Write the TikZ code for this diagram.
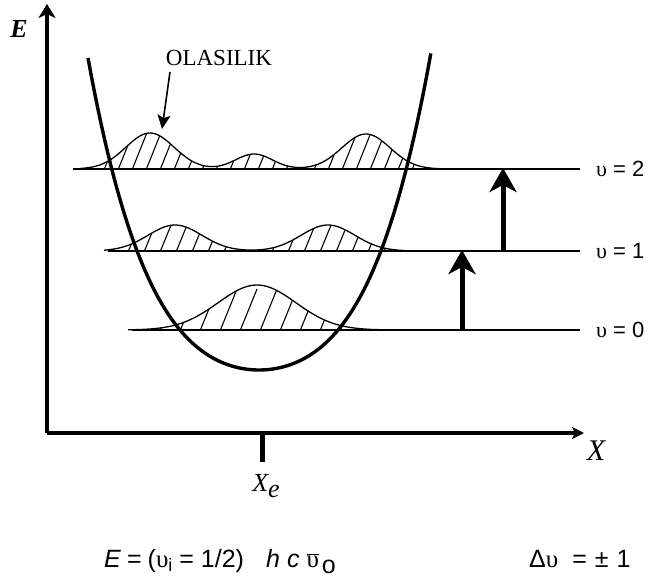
\documentclass[tikz,border=0pt]{standalone}
\usepackage{fontspec}
\setmainfont{Liberation Serif}
\newfontfamily\arialf{Liberation Sans}
\usetikzlibrary{arrows.meta}
\newcommand{\ups}{{\rmfamily υ}}
\begin{document}
\begin{tikzpicture}[x=1pt,y=-1pt,
  axis/.style={line width=3.2pt},
  level/.style={line width=1.8pt},
  prob/.style={line width=1.3pt},
  hatchline/.style={line width=1.1pt},
  well/.style={line width=3.4pt},
  jump/.style={line width=5pt,-{Stealth[length=24pt,width=27pt,inset=7pt]}},
  lvlabel/.style={anchor=west,inner sep=0pt,font=\arialf\fontsize{22}{24}\selectfont},
  formula/.style={anchor=base west,inner sep=0pt,font=\arialf\fontsize{25}{28}\selectfont}]
\useasboundingbox (0,0) rectangle (650,578);
\fill[white] (0,0) rectangle (650,578);

% axes
\coordinate (O) at (47,433);
\coordinate (Etop) at (47,4);
\coordinate (Xend) at (584,433);
\draw[axis,-{Stealth[length=14pt,width=17pt,inset=4pt]}] (O) -- (Etop);
\draw[axis,-{Stealth[length=12pt,width=12pt,inset=3pt]}] (O) -- (Xend);
\node[inner sep=0pt] (Elab) at (19,29) {\fontsize{26}{26}\selectfont\textbf{\textit{E}}};
\node[inner sep=0pt,font=\itshape\fontsize{30}{30}\selectfont] (Xlab) at (596,451) {X};
\coordinate (T1) at (262,433);
\coordinate (T2) at (262,462);
\draw[line width=5pt] (T1) -- (T2);
\node[inner sep=0pt,font=\itshape\fontsize{26}{26}\selectfont] (Xe) at (266,486) {X\raisebox{-6pt}{e}};

% hatched probability densities
% v = 0
\begin{scope}
\clip plot[domain=128:382,samples=80,variable=\t] ({\t},{330-45*exp(-((\t-257)/55)^2)}) -- cycle;
\foreach \h in {140,160,...,380} \draw[hatchline] (\h,331) -- ++(17,-42);
\end{scope}
\draw[prob] plot[domain=128:382,samples=80,variable=\t] ({\t},{330-45*exp(-((\t-257)/55)^2)});
% v = 1
\begin{scope}
\clip plot[domain=104:405,samples=100,variable=\t] ({\t},{251-26*(exp(-((\t-175)/38)^2)+exp(-((\t-328)/38)^2))}) -- cycle;
\foreach \h in {112,128,...,404} \draw[hatchline] (\h,252) -- ++(14,-34);
\end{scope}
\draw[prob] plot[domain=104:405,samples=100,variable=\t] ({\t},{251-26*(exp(-((\t-175)/38)^2)+exp(-((\t-328)/38)^2))});
% v = 2
\begin{scope}
\clip plot[domain=80:440,samples=140,variable=\t] ({\t},{169-36*exp(-((\t-150)/34)^2)-15*exp(-((\t-254)/26)^2)-35*exp(-((\t-366)/34)^2)}) -- cycle;
\foreach \h in {90,104,...,440} \draw[hatchline] (\h,170) -- ++(16,-40);
\end{scope}
\draw[prob] plot[domain=80:440,samples=140,variable=\t] ({\t},{169-36*exp(-((\t-150)/34)^2)-15*exp(-((\t-254)/26)^2)-35*exp(-((\t-366)/34)^2)});

% energy levels
\coordinate (L0a) at (132,330); \coordinate (L0b) at (580,330);
\coordinate (L1a) at (108,251); \coordinate (L1b) at (580,251);
\coordinate (L2a) at (73,169);  \coordinate (L2b) at (580,169);
\draw[level] (L0a) -- (L0b);
\draw[level] (L1a) -- (L1b);
\draw[level] (L2a) -- (L2b);
\node[lvlabel] (v0) at (596,330) {\ups{} = 0};
\node[lvlabel] (v1) at (596,251) {\ups{} = 1};
\node[lvlabel] (v2) at (596,169) {\ups{} = 2};

% transitions
\coordinate (A1s) at (462,331); \coordinate (A1e) at (462,250);
\coordinate (A2s) at (503,252); \coordinate (A2e) at (503,168);
\draw[jump] (A1s) -- (A1e);
\draw[jump] (A2s) -- (A2e);

% potential well
\draw[well] plot[domain=-1.71:1.72,samples=120,variable=\u] ({259+100*\u},{370-52.5*(\u)*(\u)-18.54*(\u)*(\u)*(\u)*(\u)});

% OLASILIK label and arrow
\node[inner sep=0pt,font=\fontsize{23}{23}\selectfont] (ol) at (219,58) {OLASILIK};
\coordinate (olt) at (170,72);
\coordinate (olh) at (162,129);
\draw[line width=1.6pt,-{Stealth[length=14pt,width=13pt,inset=3pt]}] (olt) -- (olh);

% formulas
\node[formula] (f1) at (104,567) {\textit{E}\hspace{6pt}=\hspace{6pt}(\ups\raisebox{-4pt}{\fontsize{18}{18}\selectfont i}\hspace{7pt}=\hspace{7pt}1/2)};
\node[formula] (f2) at (266,567) {\textit{h}\hspace{7pt}\textit{c}\hspace{7pt}$\overline{\hbox{\ups}}$\hspace{3pt}\raisebox{-6pt}{o}};
\node[formula] (f3) at (529,567) {Δ\ups\hspace{14pt}=\hspace{8pt}±\hspace{8pt}1};
\end{tikzpicture}
\end{document}
